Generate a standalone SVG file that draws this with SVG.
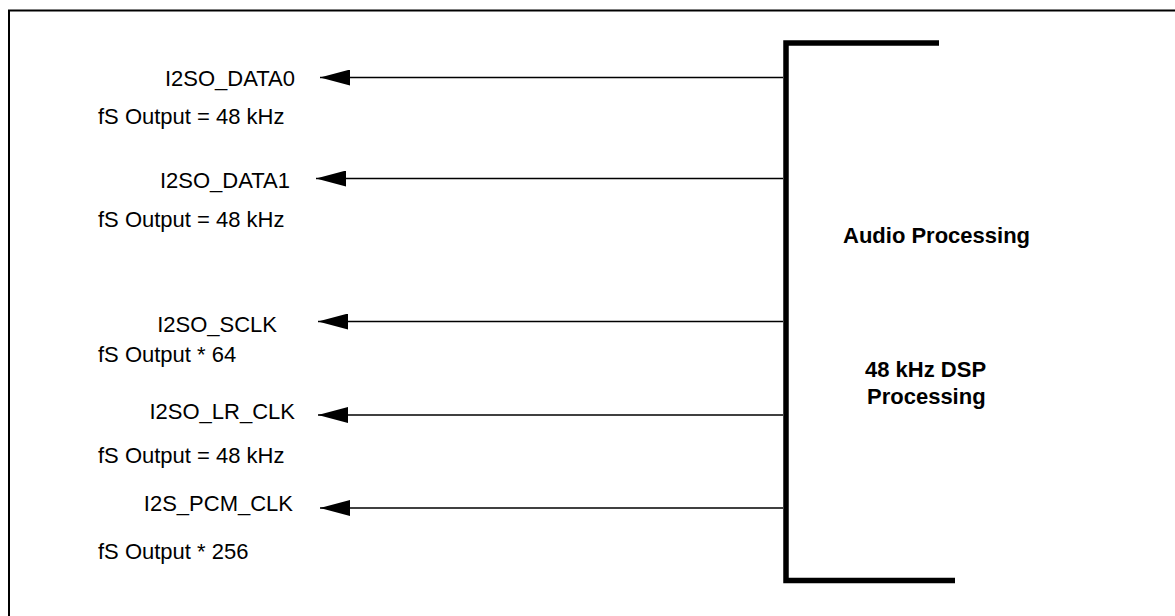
<svg xmlns="http://www.w3.org/2000/svg" width="1175" height="616" viewBox="0 0 1175 616">
  <style>
    .lbl { font-family: "Liberation Sans", Arial, sans-serif; font-size: 22px; fill: #000; }
    .blk { font-family: "Liberation Sans", Arial, sans-serif; font-size: 22px; font-weight: bold; fill: #000; }
    .sig { stroke: #000; stroke-width: 1.6; fill: none; }
    .bar { stroke: #000; stroke-width: 5.5; fill: none; stroke-linecap: butt; }
  </style>
  <defs>
    <!-- solid triangular head; tip sits on the line end -->
    <marker id="arrowhead" viewBox="0 0 30 16" refX="30" refY="8" markerWidth="30" markerHeight="16" markerUnits="userSpaceOnUse" orient="auto">
      <path d="M30,8 L0,0 L0,16 Z" fill="#000"/>
    </marker>
  </defs>

  <rect width="1175" height="616" fill="#fff"/>

  <!-- outer frame, running off the page at right and bottom -->
  <path d="M9,630 L9,10.5 L1190,10.5" fill="none" stroke="#000" stroke-width="2"/>

  <!-- processing block: bracket-shaped bus -->
  <g id="audio-processing">
    <path class="bar" d="M939,43 L786,43 L786,580.5 L955,580.5"/>
    <text class="blk" x="843" y="243">Audio Processing</text>
    <text class="blk" x="865" y="377">48 kHz DSP</text>
    <text class="blk" x="867" y="404">Processing</text>
  </g>

  <!-- output signal lines from the bus -->
  <g id="connectors">
    <line class="sig" x1="783" y1="77.5" x2="320" y2="77.5" marker-end="url(#arrowhead)"/>
    <line class="sig" x1="783" y1="178.5" x2="316" y2="178.5" marker-end="url(#arrowhead)"/>
    <line class="sig" x1="783" y1="321.5" x2="318" y2="321.5" marker-end="url(#arrowhead)"/>
    <line class="sig" x1="783" y1="415" x2="318" y2="415" marker-end="url(#arrowhead)"/>
    <line class="sig" x1="783" y1="508" x2="320" y2="508" marker-end="url(#arrowhead)"/>
  </g>

  <g id="i2so-data0">
    <text class="lbl" x="295" y="86" text-anchor="end">I2SO_DATA0</text>
    <text class="lbl" x="98" y="124">fS Output = 48 kHz</text>
  </g>

  <g id="i2so-data1">
    <text class="lbl" x="290" y="188" text-anchor="end">I2SO_DATA1</text>
    <text class="lbl" x="98" y="227">fS Output = 48 kHz</text>
  </g>

  <g id="i2so-sclk">
    <text class="lbl" x="277" y="332" text-anchor="end">I2SO_SCLK</text>
    <text class="lbl" x="98" y="362">fS Output * 64</text>
  </g>

  <g id="i2so-lr-clk">
    <text class="lbl" x="295" y="419" text-anchor="end">I2SO_LR_CLK</text>
    <text class="lbl" x="98" y="463">fS Output = 48 kHz</text>
  </g>

  <g id="i2s-pcm-clk">
    <text class="lbl" x="293" y="511" text-anchor="end">I2S_PCM_CLK</text>
    <text class="lbl" x="98" y="559">fS Output * 256</text>
  </g>
</svg>
